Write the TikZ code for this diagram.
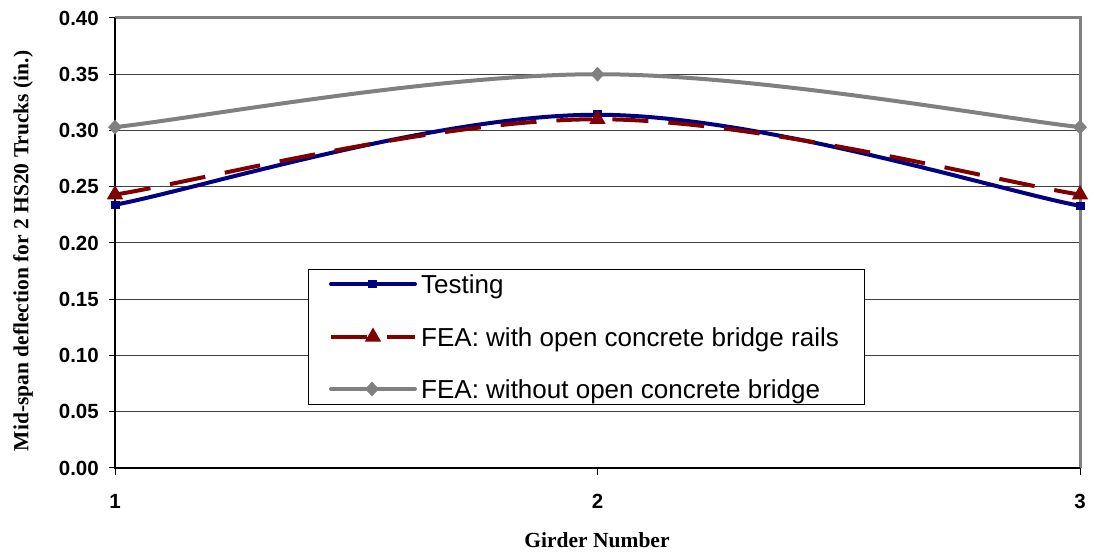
\documentclass[tikz,border=0pt]{standalone}
\usepackage{fontspec}
\setmainfont{Liberation Serif}
\setsansfont{Liberation Sans}
\usetikzlibrary{shapes.geometric,calc}

\definecolor{navyline}{HTML}{000080}
\definecolor{maroonline}{HTML}{800000}
\definecolor{greyline}{HTML}{808080}

\begin{document}
\begin{tikzpicture}[x=1pt,y=1pt,
  gridline/.style={draw=black!75,line width=1pt},
  frameline/.style={draw=greyline,line width=3pt},
  axisline/.style={draw=black,line width=2pt},
  tickline/.style={draw=black,line width=1pt},
  ticklabel/.style={font=\sffamily\bfseries\fontsize{20.5}{24}\selectfont,inner sep=0pt},
  axistitle/.style={font=\bfseries\fontsize{21.5}{25}\selectfont,inner sep=0pt},
  legendtext/.style={font=\sffamily\fontsize{26}{30}\selectfont,inner sep=0pt,anchor=base west},
  testline/.style={draw=navyline,line width=4pt,line cap=round},
  railline/.style={draw=maroonline,line width=4pt,dash pattern=on 36pt off 20pt},
  bareline/.style={draw=greyline,line width=4pt,line cap=round},
  sqmark/.style={rectangle,fill=navyline,minimum width=9pt,minimum height=8.5pt,inner sep=0pt},
  trimark/.style={regular polygon,regular polygon sides=3,fill=maroonline,minimum size=19pt,inner sep=0pt},
  dimark/.style={diamond,fill=greyline,minimum width=14pt,minimum height=15pt,inner sep=0pt},
]
\useasboundingbox (0,0) rectangle (1094,556);

% horizontal gridlines
\foreach \i in {1,...,7}
  \draw[gridline] (115,88+56.25*\i) -- (1080,88+56.25*\i);

% plot frame and axes
\draw[frameline] (115,538) -- (1080,538) -- (1080,88);
\draw[axisline] (115,538) -- (115,88) -- (1080,88);

% y ticks and labels
\foreach \i/\lab in {0/0.00,1/0.05,2/0.10,3/0.15,4/0.20,5/0.25,6/0.30,7/0.35,8/0.40}{
  \draw[tickline] (109,88+56.25*\i) -- (115,88+56.25*\i);
  \node[ticklabel,anchor=east] (yl\i) at (99,88+56.25*\i) {\lab};
}

% x ticks and labels
\foreach \g/\xx in {1/115,2/597.5,3/1080}{
  \draw[tickline] (\xx,88) -- (\xx,81);
  \node[ticklabel] (xl\g) at (\xx,55) {\g};
}

% axis titles
\node[axistitle,rotate=90] (ytitle) at (23,305) {Mid-span deflection for 2 HS20 Trucks (in.)};
\node[axistitle] (xtitle) at (597,16) {Girder Number};

% data series
\begin{scope}[shift={(115,88)},x=482.5pt,y=1125pt]
  \coordinate (t1) at (0,0.234);
  \coordinate (t2) at (1,0.314);
  \coordinate (t3) at (2,0.233);
  \coordinate (r1) at (0,0.243);
  \coordinate (r2) at (1,0.310);
  \coordinate (r3) at (2,0.243);
  \coordinate (w1) at (0,0.303);
  \coordinate (w2) at (1,0.350);
  \coordinate (w3) at (2,0.303);
\end{scope}

\foreach \s/\sty in {t/testline,r/railline,w/bareline}{
  \draw[\sty] (\s1)
    .. controls ($(\s1)!0.16667!(\s2)$) and ($(\s2)+0.16667*(\s1)-0.16667*(\s3)$) .. (\s2)
    .. controls ($(\s2)+0.16667*(\s3)-0.16667*(\s1)$) and ($(\s3)!0.16667!(\s2)$) .. (\s3);
}

\foreach \k in {1,2,3}{
  \node[sqmark] (mt\k) at (t\k) {};
  \node[trimark] (mr\k) at (r\k) {};
  \node[dimark] (mw\k) at (w\k) {};
}

% legend
\node[draw=black,line width=1pt,fill=white,minimum width=556pt,minimum height=135pt,
      anchor=north west,inner sep=0pt] (legend) at (308,287) {};

\coordinate (la1) at (331,272);
\coordinate (lb1) at (415,272);
\coordinate (la2) at (331,219);
\coordinate (lb2) at (415,219);
\coordinate (la3) at (331,167);
\coordinate (lb3) at (415,167);

\draw[testline] (la1) -- (lb1);
\node[sqmark] (lm1) at (372,272) {};
\node[legendtext] (lt1) at (421,262.7) {Testing};

\draw[railline] (la2) -- (lb2);
\node[trimark] (lm2) at (373,219) {};
\node[legendtext] (lt2) at (421,209.7) {FEA: with open concrete bridge rails};

\draw[bareline] (la3) -- (lb3);
\node[dimark] (lm3) at (372,167) {};
\node[legendtext] (lt3) at (421,157.7) {FEA: without open concrete bridge};
\end{tikzpicture}
\end{document}
